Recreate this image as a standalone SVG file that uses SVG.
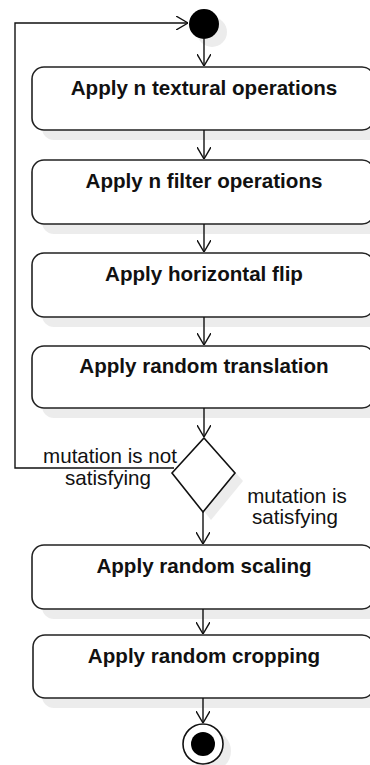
<svg xmlns="http://www.w3.org/2000/svg" width="370" height="765" viewBox="0 0 370 765">
<defs>
<marker id="arr" viewBox="0 0 12 14" refX="12" refY="7" markerWidth="12" markerHeight="14" markerUnits="userSpaceOnUse" orient="auto">
<path d="M0,0 L12,7 L0,14" fill="none" stroke="#111" stroke-width="1.4"/>
</marker>
</defs>
<style>
.box{fill:#fff;stroke:#222;stroke-width:1.6}
.sh{fill:#ececec;stroke:none}
.t{font-family:"Liberation Sans",Arial,sans-serif;font-weight:bold;font-size:20.6px;fill:#111;text-anchor:middle}
.l{font-family:"Liberation Sans",Arial,sans-serif;font-size:20.6px;fill:#111;text-anchor:middle}
.c{fill:none;stroke:#111;stroke-width:1.4}
</style>
<rect width="370" height="765" fill="#fff"/>
<g id="start">
<circle class="sh" cx="212" cy="32" r="15"/>
<circle cx="204" cy="24" r="15" fill="#000"/>
</g>
<g id="n1">
<rect class="sh" x="42" y="77" width="342" height="63" rx="12"/>
<rect class="box" x="32" y="67" width="342" height="63" rx="12"/>
<text class="t" x="204" y="95">Apply n textural operations</text>
</g>
<g id="n2">
<rect class="sh" x="42" y="170" width="342" height="64" rx="12"/>
<rect class="box" x="32" y="160" width="342" height="64" rx="12"/>
<text class="t" x="204" y="188">Apply n filter operations</text>
</g>
<g id="n3">
<rect class="sh" x="42" y="263" width="342" height="64" rx="12"/>
<rect class="box" x="32" y="253" width="342" height="64" rx="12"/>
<text class="t" x="204" y="281">Apply horizontal flip</text>
</g>
<g id="n4">
<rect class="sh" x="42" y="356" width="342" height="62" rx="12"/>
<rect class="box" x="32" y="346" width="342" height="62" rx="12"/>
<text class="t" x="204" y="373">Apply random translation</text>
</g>
<g id="decision">
<polygon class="sh" points="212,446 243,481 211,520 180,481"/>
<polygon points="204,438 235,473 203,512 172,473" fill="#fff" stroke="#111" stroke-width="1.6"/>
</g>
<g id="n5">
<rect class="sh" x="42" y="555" width="342" height="64" rx="12"/>
<rect class="box" x="32" y="545" width="342" height="64" rx="12"/>
<text class="t" x="204" y="573">Apply random scaling</text>
</g>
<g id="n6">
<rect class="sh" x="42" y="645" width="342" height="63" rx="12"/>
<rect class="box" x="33" y="635" width="341" height="63" rx="12"/>
<text class="t" x="204" y="663">Apply random cropping</text>
</g>
<g id="end">
<circle class="sh" cx="211" cy="751" r="20"/>
<circle cx="203" cy="744" r="20" fill="#fff" stroke="#111" stroke-width="1.6"/>
<circle cx="203" cy="744" r="12" fill="#000"/>
</g>
<g id="connectors">
<line class="c" x1="204" y1="39" x2="204" y2="66" marker-end="url(#arr)"/>
<line class="c" x1="204" y1="130" x2="204" y2="159" marker-end="url(#arr)"/>
<line class="c" x1="204" y1="224" x2="204" y2="252" marker-end="url(#arr)"/>
<line class="c" x1="204" y1="317" x2="204" y2="345" marker-end="url(#arr)"/>
<line class="c" x1="204" y1="408" x2="204" y2="437" marker-end="url(#arr)"/>
<line class="c" x1="203" y1="512" x2="203" y2="544" marker-end="url(#arr)"/>
<line class="c" x1="203" y1="609" x2="203" y2="634" marker-end="url(#arr)"/>
<line class="c" x1="203" y1="698" x2="203" y2="723" marker-end="url(#arr)"/>
<polyline class="c" points="174,468 15,468 15,23 188,23" marker-end="url(#arr)"/>
<text class="l" x="110" y="463">mutation is not</text>
<text class="l" x="108" y="485">satisfying</text>
<text class="l" x="297" y="503">mutation is</text>
<text class="l" x="295" y="524">satisfying</text>
</g>
</svg>
